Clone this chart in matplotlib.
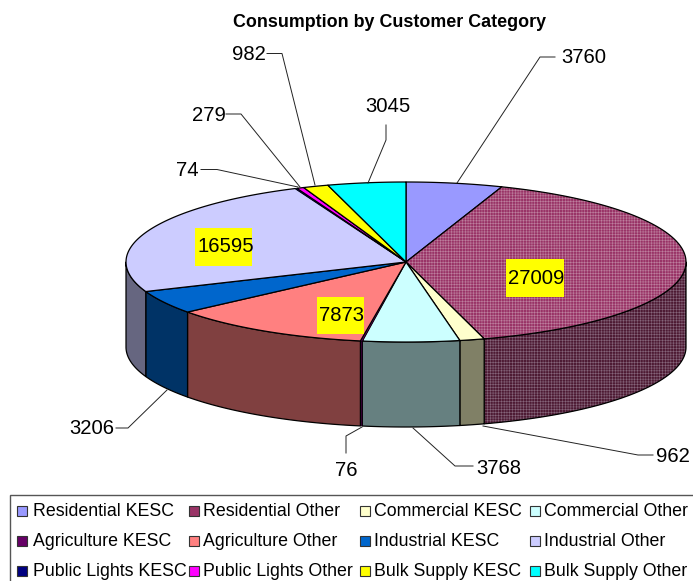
import numpy as np
import matplotlib
matplotlib.use("Agg")
import matplotlib.pyplot as plt
from matplotlib.patches import Polygon, Rectangle

plt.rcParams["font.family"] = ["Liberation Sans", "DejaVu Sans"]
plt.rcParams["hatch.linewidth"] = 0.4

### dados
CATEGORIAS = [
    "Residential KESC", "Residential Other", "Commercial KESC", "Commercial Other",
    "Agriculture KESC", "Agriculture Other", "Industrial KESC", "Industrial Other",
    "Public Lights KESC", "Public Lights Other", "Bulk Supply KESC", "Bulk Supply Other",
]
VALORES = [3760, 27009, 962, 3768, 76, 7873, 3206, 16595, 74, 279, 982, 3045]
CORES = [
    "#9999FF", "#993366", "#FFFFCC", "#CCFFFF",
    "#660066", "#FF8080", "#0066CC", "#CCCCFF",
    "#000080", "#FF00FF", "#FFFF00", "#00FFFF",
]
CORES_LADO = [
    "#4D4D80", "#4D1A33", "#808066", "#668080",
    "#330033", "#804040", "#003366", "#666680",
    "#000040", "#800080", "#808000", "#008080",
]

### layout (pixels da figura)
W, H = 693, 581
CX, CY, RX, RY, DEPTH = 406, 262, 280, 80, 85

# rotulo, posicao do texto, ha, pontos da linha de chamada
CHAMADAS = [
    ("3760", (561, 57.5), "left", [(457, 183), (540, 57), (555, 57)]),
    ("982", (266, 54.5), "right", [(315, 185), (282, 53.5), (267, 53.5)]),
    ("279", (226, 115.5), "right", [(300, 187), (241, 114), (226, 114)]),
    ("74", (199, 171), "right", [(298, 187), (217, 169.5), (201, 169.5)]),
    ("3045", (387.5, 106), "center", [(368, 183), (386, 140), (386, 125)]),
    ("3206", (114, 429), "right", [(167, 390), (128, 428), (116, 428)]),
    ("76", (346, 470), "center", [(362, 427), (346, 436), (346, 453)]),
    ("3768", (476, 469), "left", [(413, 428), (455, 466), (473, 466)]),
    ("962", (656, 456), "left", [(483, 426), (638, 455), (653, 455)]),
]
# rotulo, centro do texto, caixa amarela (x, y, larg, alt)
INTERNOS = [
    ("16595", (225.5, 246.5), (195, 228, 57, 38)),
    ("7873", (341.5, 315.5), (317, 297, 47, 37)),
    ("27009", (536.5, 278.5), (506, 259, 58, 38)),
]

COL_SWATCH = [16.5, 188.5, 360, 530]
COL_TEXTO = [33, 203, 374, 544]
LIN_LEGENDA = [511, 541, 571]


def elipse(t_graus, dy=0.0):
    t = np.radians(t_graus)
    return np.column_stack([CX + RX * np.sin(t), CY - RY * np.cos(t) + dy])


fig = plt.figure(figsize=(W / 100, H / 100), dpi=100)
ax = fig.add_axes([0, 0, 1, 1])
ax.set_xlim(0, W)
ax.set_ylim(H, 0)
ax.axis("off")

angulos = np.concatenate([[0], np.cumsum(VALORES)]) / sum(VALORES) * 360

# Laterais, so a metade da frente
for i, cor in enumerate(CORES_LADO):
    a, b = max(angulos[i], 90), min(angulos[i + 1], 270)
    if b <= a:
        continue
    tt = np.linspace(a, b, 80)
    pts = np.vstack([elipse(tt), elipse(tt[::-1], DEPTH)])
    hatch = "++++++" if i == 1 else None
    ax.add_patch(Polygon(pts, fc=cor, ec="#85657a" if hatch else cor, hatch=hatch, lw=0))
    # fatias muito finas ficam com contorno fino
    lw = 0.9 if VALORES[i] > 100 else 0.3
    ax.add_patch(Polygon(pts, fc="none", ec="black", lw=lw, joinstyle="round"))

# Fatias do topo
for i, cor in enumerate(CORES):
    tt = np.linspace(angulos[i], angulos[i + 1], 120)
    pts = np.vstack([[CX, CY], elipse(tt)])
    hatch = "++++++" if i == 1 else None
    ax.add_patch(Polygon(pts, fc=cor, ec="#bd7f9e" if hatch else cor, hatch=hatch, lw=0))
    lw = 0.9 if VALORES[i] > 100 else 0.3
    ax.add_patch(Polygon(pts, fc="none", ec="black", lw=lw, joinstyle="round"))

# Chamadas
for rot, (tx, ty), ha, linha in CHAMADAS:
    xs, ys = zip(*linha)
    ax.plot(xs, ys, color="#222222", lw=0.7, solid_joinstyle="miter")
    ax.text(tx, ty, rot, fontsize=14.6, ha=ha, va="center", color="black")

for rot, (tx, ty), (bx, by, bw, bh) in INTERNOS:
    ax.add_patch(Rectangle((bx, by), bw, bh, fc="#FFFF00", ec="none"))
    ax.text(tx, ty, rot, fontsize=14.6, ha="center", va="center", color="black")

ax.text(390, 22.5, "Consumption by Customer Category", fontsize=12.85, fontweight="bold",
        ha="center", va="center")

# Legenda
ax.add_patch(Rectangle((10, 494.5), 690, 95, fc="white", ec="#555555", lw=1.0))
for i, (nome, cor) in enumerate(zip(CATEGORIAS, CORES)):
    lin, col = divmod(i, 4)
    y = LIN_LEGENDA[lin]
    ax.add_patch(Rectangle((COL_SWATCH[col], y - 5), 10, 10, fc=cor, ec="#333333", lw=0.8))
    ax.text(COL_TEXTO[col], y, nome, fontsize=12.75, ha="left", va="center")

fig.savefig("out.png", dpi=100)
plt.close(fig)
